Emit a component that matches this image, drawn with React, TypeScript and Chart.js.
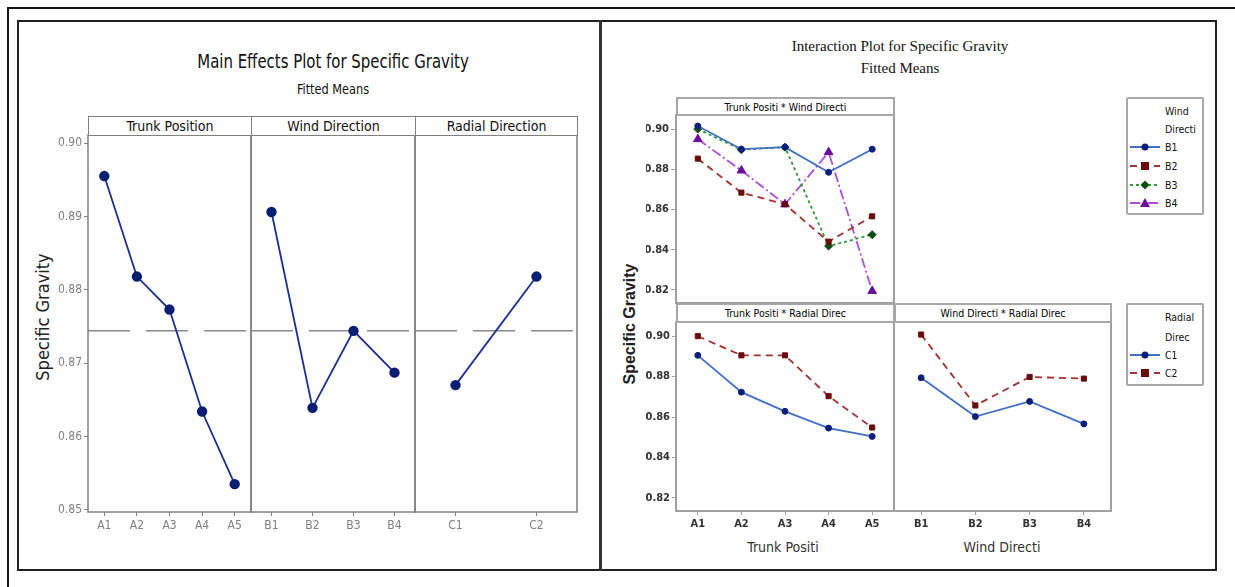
import React, { useEffect, useRef } from "react";
import { Chart, registerables } from "chart.js";
Chart.register(...registerables);

// ---------- DATA ----------
const trunkLevels = ["A1", "A2", "A3", "A4", "A5"];
const windLevels = ["B1", "B2", "B3", "B4"];
const radialLevels = ["C1", "C2"];

const mainTrunk = [0.8955, 0.8818, 0.8773, 0.8634, 0.8535];
const mainWind = [0.8906, 0.8639, 0.8744, 0.8687];
const mainRadial = [0.867, 0.8818];
const grandMean = 0.8744;
const mainTicks = [0.85, 0.86, 0.87, 0.88, 0.89, 0.9];

const twB1 = [0.9015, 0.89, 0.891, 0.8785, 0.89];
const twB2 = [0.8853, 0.8684, 0.8626, 0.844, 0.8566];
const twB3 = [0.9, 0.8897, 0.891, 0.8418, 0.8475];
const twB4 = [0.895, 0.8794, 0.8626, 0.8885, 0.8195];

const trC1 = [0.8905, 0.8723, 0.8628, 0.8545, 0.8504];
const trC2 = [0.9, 0.8905, 0.8905, 0.8703, 0.8548];

const wrC1 = [0.8794, 0.8602, 0.8677, 0.8566];
const wrC2 = [0.9008, 0.8657, 0.8798, 0.879];

const interTicks = [0.82, 0.84, 0.86, 0.88, 0.9];

// ---------- STYLE ----------
const NARROW = '"Liberation Sans Narrow", "DejaVu Sans Condensed", "Noto Sans", sans-serif';
const SERIF = '"Liberation Serif", "DejaVu Serif", serif';
const SANS = '"Liberation Sans", "DejaVu Sans", sans-serif';

const S1 = { line: "#3f6fc6", mark: "#0d1f7a", dash: [] as number[], shape: "circle", r: 3 };
const S2 = { line: "#a2302c", mark: "#6a0c0c", dash: [7, 5], shape: "rect", r: 3.6 };
const S3 = { line: "#2f9a34", mark: "#0b4d12", dash: [3, 3], shape: "rectRot", r: 4 };
const S4 = { line: "#b24ad6", mark: "#6a0f9c", dash: [10, 3, 2, 3], shape: "triangle", r: 5 };

function ds(data: number[], s: any) {
  return {
    data,
    borderColor: s.line,
    borderWidth: 1.8,
    borderDash: s.dash,
    pointStyle: s.shape,
    pointRadius: s.r,
    pointBackgroundColor: s.mark,
    pointBorderColor: s.mark,
    pointBorderWidth: 1,
    tension: 0,
  };
}

const mainDs = (data: number[]) => ({
  data,
  borderColor: "#1c2f92",
  borderWidth: 1.8,
  pointStyle: "circle",
  pointRadius: 4.3,
  pointBackgroundColor: "#0a1f72",
  pointBorderColor: "#0a1f72",
  tension: 0,
});

type PanelProps = {
  area: [number, number, number, number];
  labels: string[];
  datasets: any[];
  yMin: number;
  yMax: number;
  yTicks?: number[];
  yAxisWidth?: number;
  showX: boolean;
  xAxisHeight?: number;
  tickFont: any;
  tickColor: string;
  frameColor: string;
  frameWidth: number;
  tickLen: number;
  mean?: number;
};

function Panel(p: PanelProps) {
  const ref = useRef<HTMLCanvasElement>(null);
  const [l, t, r, b] = p.area;
  const yw = p.yTicks ? p.yAxisWidth || 30 : 0;
  const xh = p.showX ? p.xAxisHeight || 26 : 0;
  const pad = 3;
  const cl = l - yw - pad;
  const ct = t - pad;
  const cw = r - l + yw + 2 * pad;
  const chh = b - t + xh + 2 * pad;

  useEffect(() => {
    const framePlugin = {
      id: "frame",
      beforeDatasetsDraw(chart: any) {
        const { ctx, chartArea: a } = chart;
        ctx.save();
        if (p.mean != null) {
          const y = chart.scales.y.getPixelForValue(p.mean);
          ctx.strokeStyle = "#8a8a8a";
          ctx.lineWidth = 1.5;
          ctx.setLineDash([42, 16]);
          ctx.beginPath();
          ctx.moveTo(a.left, y);
          ctx.lineTo(a.right, y);
          ctx.stroke();
          ctx.setLineDash([]);
        }
        ctx.strokeStyle = p.frameColor;
        ctx.lineWidth = p.frameWidth;
        ctx.strokeRect(a.left, a.top, a.right - a.left, a.bottom - a.top);
        ctx.restore();
      },
    };
    const zeroPad = (s: any) => {
      s.paddingTop = 0;
      s.paddingBottom = 0;
      s.paddingLeft = 0;
      s.paddingRight = 0;
    };
    const chart = new Chart(ref.current as HTMLCanvasElement, {
      type: "line",
      data: { labels: p.labels, datasets: p.datasets },
      options: {
        responsive: false,
        animation: false,
        layout: { padding: pad, autoPadding: false },
        plugins: { legend: { display: false }, tooltip: { enabled: false } },
        scales: {
          x: {
            type: "category",
            offset: true,
            display: p.showX,
            grid: {
              display: true,
              drawOnChartArea: false,
              drawTicks: true,
              tickLength: p.tickLen,
              color: p.frameColor,
              offset: false,
            },
            border: { display: false },
            ticks: {
              color: p.tickColor,
              font: p.tickFont,
              padding: 3,
              maxRotation: 0,
              autoSkip: false,
            },
            afterFit: (s: any) => {
              s.height = xh;
              zeroPad(s);
            },
          },
          y: {
            type: "linear",
            min: p.yMin,
            max: p.yMax,
            display: !!p.yTicks,
            afterBuildTicks: (s: any) => {
              if (p.yTicks) s.ticks = p.yTicks.map((v) => ({ value: v }));
            },
            grid: {
              display: true,
              drawOnChartArea: false,
              drawTicks: true,
              tickLength: p.tickLen,
              color: p.frameColor,
            },
            border: { display: false },
            ticks: {
              color: p.tickColor,
              font: p.tickFont,
              padding: 2,
              callback: (v: any) => Number(v).toFixed(2),
            },
            afterFit: (s: any) => {
              s.width = yw;
              zeroPad(s);
            },
          },
        },
      },
      plugins: [framePlugin],
    } as any);
    return () => chart.destroy();
  }, []);

  return (
    <canvas
      ref={ref}
      width={cw}
      height={chh}
      style={{ position: "absolute", left: cl, top: ct, width: cw, height: chh }}
    />
  );
}

function Txt(props: {
  x: number;
  y: number;
  text: string;
  size: number;
  family: string;
  color?: string;
  weight?: any;
  rotate?: boolean;
  sx?: number;
  align?: "center" | "left";
}) {
  const tr =
    (props.align === "left" ? "translate(0,-50%)" : "translate(-50%,-50%)") +
    (props.rotate ? " rotate(-90deg)" : "") +
    (props.sx ? ` scaleX(${props.sx})` : "");
  return (
    <div
      style={{
        position: "absolute",
        left: props.x,
        top: props.y,
        transform: tr,
        transformOrigin: props.align === "left" ? "left center" : "center center",
        fontSize: props.size,
        fontFamily: props.family,
        color: props.color || "#000",
        fontWeight: props.weight || "normal",
        whiteSpace: "nowrap",
        lineHeight: 1,
      }}
    >
      {props.text}
    </div>
  );
}

function Strip(props: { l: number; r: number; t: number; b: number; text: string; size: number; family: string; color: string; border: string; weight?: any }) {
  return (
    <div
      style={{
        position: "absolute",
        left: props.l,
        top: props.t,
        width: props.r - props.l,
        height: props.b - props.t,
        border: props.border,
        boxSizing: "border-box",
        display: "flex",
        alignItems: "center",
        justifyContent: "center",
        fontSize: props.size,
        fontFamily: props.family,
        fontWeight: props.weight || "normal",
        color: props.color,
        whiteSpace: "nowrap",
        background: "#fff",
      }}
    >
      {props.text}
    </div>
  );
}

function Marker({ s }: { s: any }) {
  const cx = 16, cy = 6;
  if (s.shape === "circle") return <circle cx={cx} cy={cy} r={3.5} fill={s.mark} />;
  if (s.shape === "rect") return <rect x={cx - 4} y={cy - 4} width={8} height={8} fill={s.mark} />;
  if (s.shape === "rectRot")
    return <polygon points={`${cx},${cy - 4.5} ${cx + 4.5},${cy} ${cx},${cy + 4.5} ${cx - 4.5},${cy}`} fill={s.mark} />;
  return <polygon points={`${cx},${cy - 5} ${cx + 5},${cy + 4} ${cx - 5},${cy + 4}`} fill={s.mark} />;
}

function LegendEntry({ y, s, label }: { y: number; s: any; label: string }) {
  return (
    <>
      <svg
        width={32}
        height={12}
        style={{ position: "absolute", left: 1129, top: y - 6 }}
      >
        <line x1={1} y1={6} x2={31} y2={6} stroke={s.line} strokeWidth={2} strokeDasharray={s.dash.length ? s.dash.join(",") : undefined} />
        <Marker s={s} />
      </svg>
      <Txt x={1165} y={y} text={label} size={10.5} family={NARROW} color="#111" align="left" />
    </>
  );
}

export default function App() {
  const mainFont = { family: NARROW, size: 12 };
  const interFont = { family: NARROW, size: 11, weight: "bold" };
  const leftFrame = "#808080";
  const rightFrame = "#a0a0a0";
  const mainY = { yMin: 0.8497, yMax: 0.9011 };
  const interY = { yMin: 0.8135, yMax: 0.907 };
  const rightBorder = "2px solid #a8a8a8";
  const leftBorder = "1.5px solid #808080";

  return (
    <div
      style={{
        position: "absolute",
        left: 0,
        top: 0,
        width: 1235,
        height: 587,
        background: "#fff",
        overflow: "hidden",
      }}
    >
      {/* outer frames */}
      <div style={{ position: "absolute", left: 7, top: 7, width: 1228, height: 2, background: "#111" }} />
      <div style={{ position: "absolute", left: 7, top: 7, width: 2, height: 580, background: "#111" }} />
      <div
        style={{
          position: "absolute",
          left: 17,
          top: 20,
          width: 1200,
          height: 551,
          border: "2px solid #222",
          boxSizing: "border-box",
        }}
      />
      <div style={{ position: "absolute", left: 599, top: 20, width: 2.5, height: 551, background: "#333" }} />

      {/* ---------- Main effects ---------- */}
      <Txt x={333} y={61} text="Main Effects Plot for Specific Gravity" size={20} sx={0.83} family={NARROW} color="#111" />
      <Txt x={333} y={89} text="Fitted Means" size={14} sx={0.9} family={NARROW} color="#111" />
      <Txt x={43} y={317} text="Specific Gravity" size={18} family={NARROW} color="#222" rotate />

      <Panel
        area={[88, 135, 251, 512]}
        labels={trunkLevels}
        datasets={[mainDs(mainTrunk)]}
        {...mainY}
        yTicks={mainTicks}
        yAxisWidth={30}
        showX
        xAxisHeight={26}
        tickFont={mainFont}
        tickColor="#808080"
        frameColor={leftFrame}
        frameWidth={1.5}
        tickLen={4}
        mean={grandMean}
      />
      <Panel
        area={[251, 135, 415, 512]}
        labels={windLevels}
        datasets={[mainDs(mainWind)]}
        {...mainY}
        showX
        xAxisHeight={26}
        tickFont={mainFont}
        tickColor="#808080"
        frameColor={leftFrame}
        frameWidth={1.5}
        tickLen={4}
        mean={grandMean}
      />
      <Panel
        area={[415, 135, 577, 512]}
        labels={radialLevels}
        datasets={[mainDs(mainRadial)]}
        {...mainY}
        showX
        xAxisHeight={26}
        tickFont={mainFont}
        tickColor="#808080"
        frameColor={leftFrame}
        frameWidth={1.5}
        tickLen={4}
        mean={grandMean}
      />
      <Strip l={88} r={252} t={116} b={136} text="Trunk Position" size={14} family={NARROW} color="#111" border={leftBorder} />
      <Strip l={251} r={416} t={116} b={136} text="Wind Direction" size={14} family={NARROW} color="#111" border={leftBorder} />
      <Strip l={415} r={578} t={116} b={136} text="Radial Direction" size={14} family={NARROW} color="#111" border={leftBorder} />

      {/* ---------- Interaction ---------- */}
      <Txt x={900} y={46} text="Interaction Plot for Specific Gravity" size={15} family={SERIF} color="#111" />
      <Txt x={900} y={68} text="Fitted Means" size={15} family={SERIF} color="#111" />
      <Txt x={630} y={324} text="Specific Gravity" size={16} family={SANS} weight="bold" color="#222" rotate />
      <Txt x={783} y={547} text="Trunk Positi" size={14} family={NARROW} color="#333" />
      <Txt x={1002} y={547} text="Wind Directi" size={14} family={NARROW} color="#333" />

      <Panel
        area={[676, 115, 894, 303]}
        labels={trunkLevels}
        datasets={[ds(twB1, S1), ds(twB2, S2), ds(twB3, S3), ds(twB4, S4)]}
        {...interY}
        yTicks={interTicks}
        yAxisWidth={30}
        showX={false}
        tickFont={interFont}
        tickColor="#333"
        frameColor={rightFrame}
        frameWidth={2}
        tickLen={5}
      />
      <Panel
        area={[676, 322, 894, 511]}
        labels={trunkLevels}
        datasets={[ds(trC1, S1), ds(trC2, S2)]}
        {...interY}
        yTicks={interTicks}
        yAxisWidth={30}
        showX
        xAxisHeight={24}
        tickFont={interFont}
        tickColor="#333"
        frameColor={rightFrame}
        frameWidth={2}
        tickLen={4}
      />
      <Panel
        area={[894, 322, 1111, 511]}
        labels={windLevels}
        datasets={[ds(wrC1, S1), ds(wrC2, S2)]}
        {...interY}
        showX
        xAxisHeight={24}
        tickFont={interFont}
        tickColor="#333"
        frameColor={rightFrame}
        frameWidth={2}
        tickLen={4}
      />
      <Strip l={676} r={895} t={97} b={116} text="Trunk Positi * Wind Directi" size={10.5} family={NARROW} color="#000" border={rightBorder} />
      <Strip l={676} r={895} t={303} b={323} text="Trunk Positi * Radial Direc" size={10.5} family={NARROW} color="#000" border={rightBorder} />
      <Strip l={894} r={1112} t={303} b={323} text="Wind Directi * Radial Direc" size={10.5} family={NARROW} color="#000" border={rightBorder} />

      {/* legends */}
      <div style={{ position: "absolute", left: 1126, top: 97, width: 78, height: 118, border: rightBorder, boxSizing: "border-box", borderRadius: 2 }} />
      <Txt x={1165} y={111} text="Wind" size={10.5} family={NARROW} color="#111" align="left" />
      <Txt x={1165} y={129} text="Directi" size={10.5} family={NARROW} color="#111" align="left" />
      <LegendEntry y={147} s={S1} label="B1" />
      <LegendEntry y={166} s={S2} label="B2" />
      <LegendEntry y={185} s={S3} label="B3" />
      <LegendEntry y={203} s={S4} label="B4" />

      <div style={{ position: "absolute", left: 1126, top: 303, width: 78, height: 83, border: rightBorder, boxSizing: "border-box", borderRadius: 2 }} />
      <Txt x={1165} y={317} text="Radial" size={10.5} family={NARROW} color="#111" align="left" />
      <Txt x={1165} y={337} text="Direc" size={10.5} family={NARROW} color="#111" align="left" />
      <LegendEntry y={355} s={S1} label="C1" />
      <LegendEntry y={373} s={S2} label="C2" />
    </div>
  );
}
